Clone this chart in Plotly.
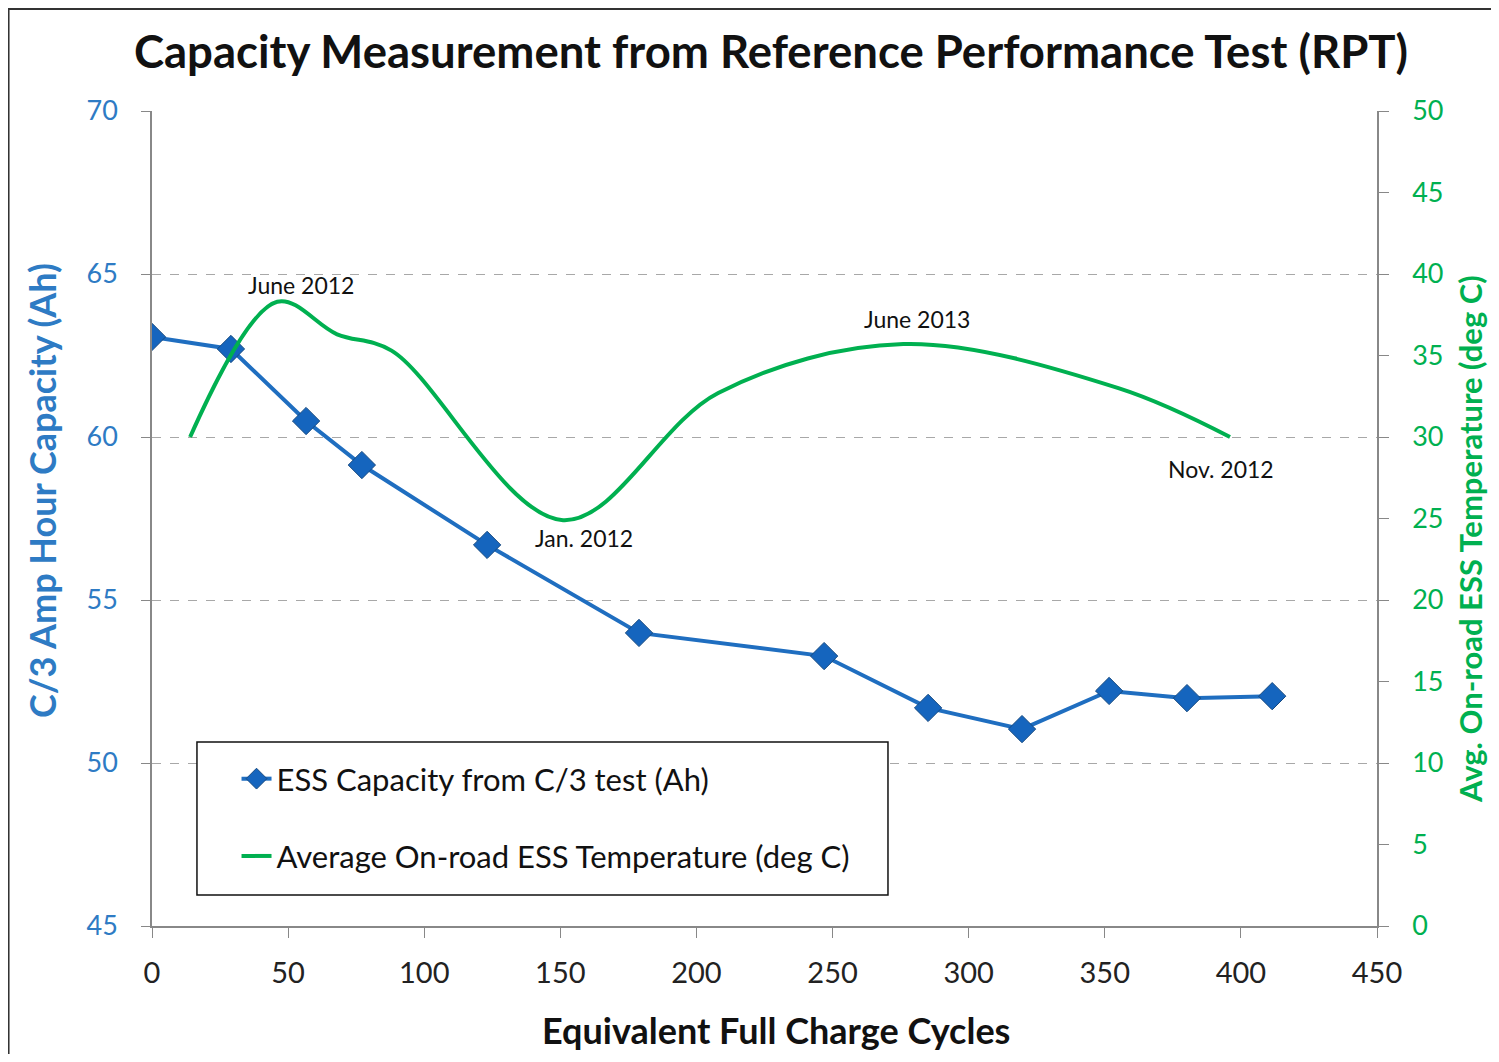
import plotly.graph_objects as go

# ESS capacity from C/3 test (left axis)
cycles = [0, 29, 56.6, 77.1, 123.1, 178.9, 246.9, 285.1, 319.6, 351.6, 380.2, 411.5]
capacity_ah = [63.07, 62.70, 60.49, 59.14, 56.69, 53.99, 53.28, 51.69, 51.04, 52.21, 51.99, 52.05]

# average on-road ESS temperature (right axis)
temp_cycles = [14, 46, 68, 88, 151, 208, 276, 355, 396]
temp_degc = [30.0, 38.3, 36.3, 35.3, 24.9, 32.7, 35.7, 33.0, 30.0]

# month labels attached to temperature points (index into temp arrays)
month_labels = ["June 2012", "Jan. 2012", "June 2013", "Nov. 2012"]
month_idx = [1, 4, 6, 8]

BLUE = "#1F6EC0"
AXIS_BLUE = "#2E7BC4"
GREEN = "#00B050"
FONT = "Lato"

fig = go.Figure()

fig.add_trace(go.Scatter(
    x=cycles, y=capacity_ah,
    mode="lines+markers",
    name="ESS Capacity from C/3 test (Ah)",
    line=dict(color=BLUE, width=4),
    marker=dict(symbol="diamond", size=21, color="#1565BE",
                line=dict(color="#174a80", width=1)),
    legendgroup="a",
))

fig.add_trace(go.Scatter(
    x=temp_cycles, y=temp_degc,
    mode="lines",
    name="Average On-road ESS Temperature (deg C)",
    line=dict(color=GREEN, width=4, shape="spline", smoothing=1.0),
    yaxis="y2",
    legendgroup="b",
))

# label offsets in pixels, one per month label
shifts = [(24, -17), (21, 18), (14, -25), (-9, 32)]
for txt, i, (dx, dy) in zip(month_labels, month_idx, shifts):
    fig.add_annotation(
        x=temp_cycles[i], y=temp_degc[i], xref="x", yref="y2",
        text=txt, showarrow=False, xshift=dx, yshift=-dy,
        font=dict(family=FONT, size=23, color="#111111"),
    )

# axis titles, placed off-centre as in the original
fig.add_annotation(x=-0.0898, y=0.535, xref="paper", yref="paper",
                   text="<b>C/3 Amp Hour Capacity (Ah)</b>", textangle=-90,
                   showarrow=False, xanchor="center", yanchor="middle",
                   font=dict(family=FONT, size=36, color=AXIS_BLUE))
fig.add_annotation(x=1.0759, y=0.4748, xref="paper", yref="paper",
                   text="<b>Avg. On-road ESS Temperature (deg C)</b>", textangle=-90,
                   showarrow=False, xanchor="center", yanchor="middle",
                   font=dict(family=FONT, size=31, color=GREEN))
fig.add_annotation(x=0.5094, y=-0.1276, xref="paper", yref="paper",
                   text="<b>Equivalent Full Charge Cycles</b>",
                   showarrow=False, xanchor="center", yanchor="middle",
                   font=dict(family=FONT, size=36, color="#111111"))

# outer frame and legend box
fig.add_shape(type="rect", xref="paper", yref="paper",
              x0=-0.1171, x1=1.2, y0=-0.2, y1=1.1252,
              line=dict(color="#333333", width=2), fillcolor="white", layer="below")
fig.add_shape(type="rect", xref="paper", yref="paper",
              x0=0.0367, x1=0.6008, y0=0.038, y1=0.2258,
              line=dict(color="#111111", width=1.5), fillcolor="white", layer="above")

fig.update_layout(
    width=1483, height=1046,
    margin=dict(l=144, r=114, t=103, b=128),
    paper_bgcolor="#f0f0f0",
    plot_bgcolor="white",
    font=dict(family=FONT, color="#111111"),
    title=dict(
        text="<b>Capacity Measurement from Reference Performance Test (RPT)</b>",
        x=0.5145, xanchor="center", y=0.958, yanchor="middle",
        font=dict(family=FONT, size=45.5, color="#111111"),
    ),
    xaxis=dict(
        range=[0, 450], dtick=50, tick0=0,
        showgrid=False, zeroline=False,
        showline=True, linecolor="#888888", linewidth=1.5,
        ticks="outside", ticklen=10, tickcolor="#888888",
        ticklabelstandoff=10,
        tickfont=dict(family=FONT, size=29, color="#222222"),
    ),
    yaxis=dict(
        range=[45, 70], dtick=5,
        showgrid=True, gridcolor="#a8a8a8", griddash="dash", gridwidth=1,
        zeroline=False,
        showline=True, linecolor="#888888", linewidth=1.5,
        ticks="outside", ticklen=9, tickcolor="#888888",
        ticklabelstandoff=18,
        tickfont=dict(family=FONT, size=27, color=AXIS_BLUE),
    ),
    yaxis2=dict(
        range=[0, 50], dtick=5, overlaying="y", side="right",
        showgrid=False, zeroline=False,
        showline=True, linecolor="#888888", linewidth=1.5,
        ticks="outside", ticklen=10, tickcolor="#888888",
        ticklabelstandoff=18,
        tickfont=dict(family=FONT, size=27, color=GREEN),
    ),
    legend=dict(
        x=0.069, xanchor="left", y=0.2135, yanchor="top",
        bgcolor="rgba(0,0,0,0)", borderwidth=0,
        font=dict(family=FONT, size=31, color="#111111"),
        traceorder="grouped", tracegroupgap=34,
    ),
)

fig.write_html("out.html")
